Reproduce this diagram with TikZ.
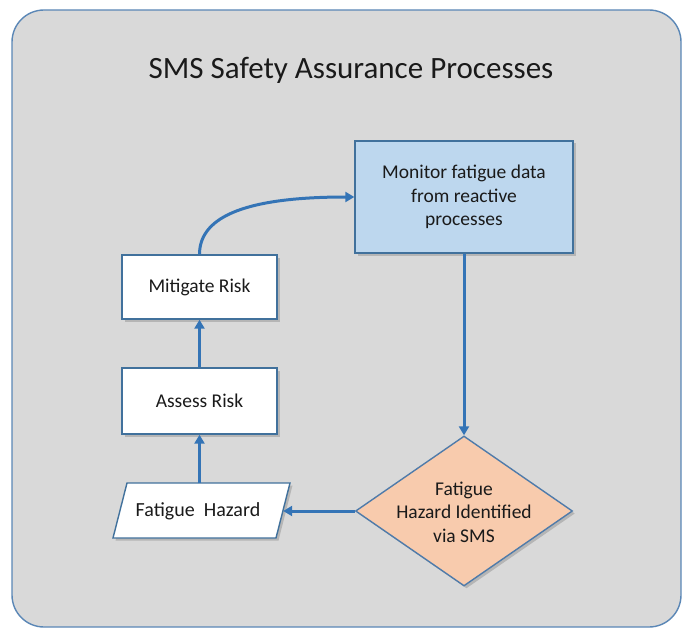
\documentclass[tikz,border=0pt]{standalone}
\usepackage{fontspec}
\setmainfont{Carlito}
\usetikzlibrary{shapes.geometric,arrows.meta,shadows}
\definecolor{outerfill}{HTML}{D9D9D9}
\definecolor{outerline}{HTML}{5B87B6}
\definecolor{boxline}{HTML}{41719C}
\definecolor{monfill}{HTML}{BDD7EE}
\definecolor{diafill}{HTML}{F8CBAD}
\definecolor{dialine}{HTML}{4F7BAA}
\definecolor{arrcol}{HTML}{3474B6}
\definecolor{txt}{HTML}{1A1A1A}
\tikzset{
  shad/.style={drop shadow={opacity=0.4,shadow xshift=2.5bp,shadow yshift=-2.5bp}},
  boxtxt/.style={font=\fontsize{19.5bp}{23.5bp}\selectfont, text=txt, align=center},
  procbox/.style={rectangle, draw=boxline, line width=1.4bp, fill=white, shad, boxtxt, inner sep=0pt},
  arr/.style={draw=arrcol, line width=3bp, -{Triangle[length=9bp,width=10bp]}},
}
\begin{document}
\begin{tikzpicture}[x=1bp,y=-1bp]
\useasboundingbox (0,0) rectangle (683,629);
% outer panel
\draw[outerline, line width=1.4bp, fill=outerfill, rounded corners=32bp] (12,10) rectangle (681,627);
\node[font=\fontsize{31bp}{37bp}\selectfont, text=txt] (title) at (351,70) {SMS Safety Assurance Processes};
% boxes
\node[procbox, fill=monfill, minimum width=218bp, minimum height=112bp] (mon) at (464,197)
  {Monitor fatigue data\\from reactive\\processes};
\node[procbox, minimum width=155bp, minimum height=64bp] (mit) at (199.5,287) {Mitigate Risk};
\node[procbox, minimum width=155bp, minimum height=66bp] (ass) at (199.5,401) {Assess Risk};
% parallelogram
\filldraw[draw=boxline, line width=1.4bp, fill=white, shad] (127,483) -- (290,483) -- (276,538) -- (113,538) -- cycle;
\node[boxtxt, font=\fontsize{20bp}{24bp}\selectfont, minimum width=170bp, minimum height=55bp, inner sep=0pt] (haz) at (198,511) {Fatigue\ \ Hazard};
% diamond
\node[diamond, draw=dialine, line width=1.4bp, fill=diafill, shad, minimum width=217bp, minimum height=150bp, inner sep=0pt] (dia) at (464,511) {};
\node[boxtxt] (diatxt) at (464,512) {Fatigue\\Hazard Identified\\via SMS};
% connectors
\draw[arr] (mit.north) .. controls (199.5,215) and (250,197) .. (mon.west);
\draw[arr] (mon.south) -- (dia.north);
\draw[arr] (dia.west) -- (haz.east);
\draw[arr] (ass.south |- haz.north) -- (ass.south);
\draw[arr] (ass.north) -- (mit.south);
\end{tikzpicture}
\end{document}
